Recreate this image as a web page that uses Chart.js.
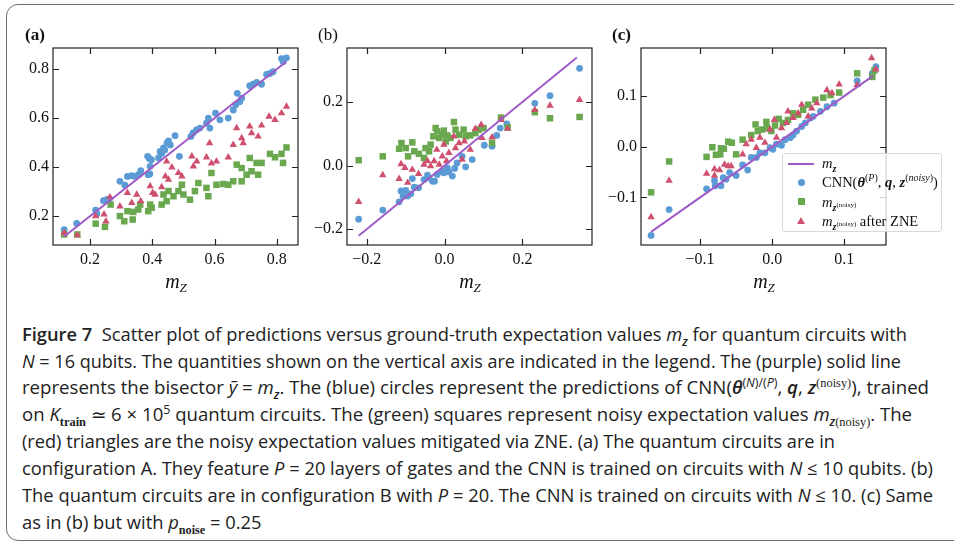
<!DOCTYPE html>
<html>
<head>
<meta charset="utf-8">
<script src="https://cdn.jsdelivr.net/npm/chart.js@4.4.1/dist/chart.umd.min.js"></script>
<style>
  body { margin: 0; background: #fff; width: 954px; height: 548px; overflow: hidden; position: relative; }
  .frame { position: absolute; left: 6px; top: 4px; width: 970px; height: 537px; border: 1.5px solid #6d6d6d; border-radius: 12px; box-sizing: border-box; }
  canvas { position: absolute; top: 0; }
  .lab { position: absolute; top: 25px; font: 17px "Liberation Serif", serif; color: #111; }
  .xt { position: absolute; top: 270px; width: 60px; text-align: center; font: italic 20px "Liberation Serif", serif; color: #111; }
  .xt sub { font-size: 13px; line-height: 0; vertical-align: -4px; }
  .legend { position: absolute; left: 782px; top: 153px; width: 160px; height: 79px; box-sizing: border-box;
    background: rgba(255,255,255,0.8); border: 1px solid #d8d8d8; border-radius: 3px; font: 14.5px "Liberation Serif", serif; color: #111; }
  .row { position: absolute; left: 39px; height: 18px; line-height: 18px; white-space: nowrap; }
  .row sup, .row sub { font-size: 10px; line-height: 0; }
  .mk { position: absolute; }
  .cap { position: absolute; left: 22px; white-space: nowrap; font: 18px "Open Sans", sans-serif; line-height: 27px;
    color: #222; transform-origin: 0 0; }
  .cap b { font-weight: 600; }
  .cap sub, .cap sup { font-size: 12px; line-height: 0; }
  .cap .s { font-family: "Liberation Serif", serif; }
</style>
</head>
<body>
<div class="frame"></div>
<canvas id="ca" width="305" height="300" style="left:0"></canvas>
<canvas id="cb" width="300" height="300" style="left:305px"></canvas>
<canvas id="cc" width="349" height="300" style="left:605px"></canvas>

<div class="lab" style="left:25px"><b>(a)</b></div>
<div class="lab" style="left:318px">(b)</div>
<div class="lab" style="left:612px"><b>(c)</b></div>

<div class="xt" style="left:146px"><i>m</i><sub>Z</sub></div>
<div class="xt" style="left:440px"><i>m</i><sub>Z</sub></div>
<div class="xt" style="left:734px"><i>m</i><sub>Z</sub></div>

<div class="legend">
  <div class="mk" style="left:5px;top:9px;width:26px;height:2px;background:#a05ac8"></div>
  <div class="row" style="top:0px"><i>m</i><sub><b><i>z</i></b></sub></div>
  <div class="mk" style="left:15px;top:25px;width:7px;height:7px;border-radius:50%;background:#5b9bd5"></div>
  <div class="row" style="top:19px">CNN(<b><i>θ</i></b><sup>(<i>P</i>)</sup>, <b><i>q</i></b>, <b><i>z</i></b><sup>(<i>noisy</i>)</sup>)</div>
  <div class="mk" style="left:15px;top:44px;width:7px;height:7px;background:#6aa84f"></div>
  <div class="row" style="top:39px"><i>m</i><sub><b><i>z</i></b><sup style="font-size:7px">(noisy)</sup></sub></div>
  <div class="mk" style="left:14px;top:63px;width:0;height:0;border-left:4.5px solid transparent;border-right:4.5px solid transparent;border-bottom:7px solid #cf506e"></div>
  <div class="row" style="top:58px"><i>m</i><sub><b><i>z</i></b><sup style="font-size:7px">(noisy)</sup></sub> after ZNE</div>
</div>

<div class="cap" data-r="907" style="top:321px"><b>Figure 7</b>&nbsp; Scatter plot of predictions versus ground-truth expectation values <i>m</i><sub><b><i>z</i></b></sub> for quantum circuits with</div>
<div class="cap" data-r="901" style="top:348px"><i>N</i> = 16 qubits. The quantities shown on the vertical axis are indicated in the legend. The (purple) solid line</div>
<div class="cap" data-r="929" style="top:374px">represents the bisector <i>ỹ</i> = <i>m</i><sub><b><i>z</i></b></sub>. The (blue) circles represent the predictions of CNN(<b><i>θ</i></b><sup>(<i>N</i>)/(<i>P</i>)</sup>, <b><i>q</i></b>, <b><i>z</i></b><sup class="s">(noisy)</sup>), trained</div>
<div class="cap" data-r="912" style="top:401px">on <i>K</i><sub class="s"><b>train</b></sub> ≃ 6 × 10<sup>5</sup> quantum circuits. The (green) squares represent noisy expectation values <i>m</i><sub><b><i>z</i></b><span class="s">(noisy)</span></sub>. The</div>
<div class="cap" data-r="835" style="top:428px">(red) triangles are the noisy expectation values mitigated via ZNE. (a) The quantum circuits are in</div>
<div class="cap" data-r="933" style="top:455px">configuration A. They feature <i>P</i> = 20 layers of gates and the CNN is trained on circuits with <i>N</i> ≤ 10 qubits. (b)</div>
<div class="cap" data-r="933" style="top:482px">The quantum circuits are in configuration B with <i>P</i> = 20. The CNN is trained on circuits with <i>N</i> ≤ 10. (c) Same</div>
<div class="cap" style="top:509px">as in (b) but with <i>p</i><sub class="s"><b>noise</b></sub> = 0.25</div>

<script>
// panel (a): [ground truth m_Z, predicted value]
const aCnn = [[0.117,0.145],[0.157,0.170],[0.218,0.224],[0.222,0.210],[0.243,0.263],[0.253,0.267],[0.262,0.270],
  [0.296,0.342],[0.312,0.326],[0.320,0.362],[0.334,0.365],[0.344,0.362],[0.355,0.369],[0.363,0.385],[0.387,0.369],
  [0.393,0.403],[0.385,0.444],[0.390,0.435],[0.397,0.430],[0.392,0.372],[0.420,0.437],[0.425,0.464],[0.430,0.455],
  [0.436,0.478],[0.440,0.470],[0.447,0.498],[0.452,0.507],[0.458,0.490],[0.473,0.528],[0.487,0.444],[0.524,0.525],
  [0.531,0.539],[0.542,0.552],[0.553,0.559],[0.574,0.579],[0.580,0.600],[0.585,0.559],[0.603,0.620],[0.617,0.593],
  [0.644,0.600],[0.660,0.633],[0.668,0.654],[0.673,0.701],[0.681,0.667],[0.687,0.681],[0.713,0.732],[0.724,0.738],
  [0.735,0.746],[0.751,0.738],[0.767,0.778],[0.778,0.782],[0.788,0.789],[0.815,0.843],[0.820,0.830],[0.831,0.846]];
const aNoisy = [[0.117,0.125],[0.159,0.125],[0.218,0.169],[0.248,0.156],[0.266,0.247],[0.296,0.200],[0.310,0.179],
  [0.320,0.220],[0.337,0.186],[0.339,0.217],[0.355,0.227],[0.361,0.247],[0.387,0.220],[0.393,0.247],[0.398,0.234],
  [0.430,0.247],[0.436,0.288],[0.446,0.261],[0.452,0.302],[0.468,0.281],[0.484,0.302],[0.495,0.328],[0.500,0.288],
  [0.521,0.267],[0.537,0.302],[0.548,0.335],[0.574,0.315],[0.580,0.281],[0.590,0.376],[0.606,0.328],[0.628,0.331],
  [0.644,0.328],[0.660,0.342],[0.671,0.410],[0.687,0.396],[0.687,0.342],[0.703,0.369],[0.713,0.437],[0.719,0.383],
  [0.735,0.417],[0.740,0.369],[0.751,0.417],[0.778,0.454],[0.794,0.440],[0.815,0.454],[0.820,0.417],[0.831,0.480]];
const aZne = [[0.117,0.132],[0.159,0.122],[0.218,0.200],[0.245,0.207],[0.251,0.179],[0.264,0.277],[0.296,0.240],
  [0.320,0.295],[0.334,0.254],[0.350,0.288],[0.363,0.261],[0.393,0.322],[0.401,0.295],[0.409,0.288],[0.430,0.318],
  [0.442,0.362],[0.452,0.349],[0.446,0.423],[0.463,0.399],[0.484,0.376],[0.495,0.362],[0.527,0.444],[0.532,0.403],
  [0.543,0.423],[0.574,0.440],[0.584,0.498],[0.590,0.415],[0.606,0.423],[0.644,0.440],[0.660,0.491],[0.671,0.559],
  [0.687,0.518],[0.692,0.498],[0.713,0.566],[0.719,0.539],[0.740,0.525],[0.751,0.570],[0.775,0.606],[0.794,0.593],
  [0.815,0.620],[0.831,0.647]];
const aLine = [0.117, 0.831];

// panel (b)
const bCnn = [[-0.221,-0.169],[-0.159,-0.140],[-0.117,-0.114],[-0.112,-0.080],[-0.107,-0.096],[-0.100,-0.078],
  [-0.095,-0.096],[-0.087,-0.089],[-0.083,-0.041],[-0.078,-0.068],[-0.067,-0.070],[-0.053,-0.044],[-0.044,-0.030],
  [-0.040,-0.039],[-0.031,-0.049],[-0.026,-0.049],[-0.019,-0.028],[-0.006,-0.018],[-0.002,-0.023],[0.007,-0.007],
  [0.011,-0.020],[0.020,-0.033],[0.026,-0.009],[0.032,0.008],[0.045,0.029],[0.054,-0.004],[0.071,0.019],
  [0.102,0.064],[0.122,0.061],[0.134,0.095],[0.143,0.118],[0.160,0.131],[0.232,0.196],[0.271,0.220],[0.347,0.306]];
const bNoisy = [[-0.221,0.017],[-0.159,0.029],[-0.117,0.053],[-0.111,0.071],[-0.100,0.055],[-0.094,0.029],
  [-0.083,0.073],[-0.078,0.045],[-0.066,0.037],[-0.053,0.024],[-0.049,0.055],[-0.040,0.045],[-0.036,0.066],
  [-0.029,0.092],[-0.023,0.118],[-0.019,0.108],[-0.014,0.087],[-0.006,0.097],[-0.002,0.110],[0.003,0.076],
  [0.007,0.095],[0.015,0.087],[0.024,0.137],[0.028,0.113],[0.037,0.097],[0.049,0.113],[0.054,0.092],[0.066,0.095],
  [0.079,0.102],[0.088,0.113],[0.100,0.118],[0.122,0.071],[0.145,0.151],[0.162,0.120],[0.232,0.168],[0.271,0.149],
  [0.347,0.153]];
const bZne = [[-0.221,-0.114],[-0.159,-0.030],[-0.117,-0.042],[-0.112,0.005],[-0.102,-0.007],[-0.095,-0.054],
  [-0.083,-0.013],[-0.067,-0.026],[-0.053,0.003],[-0.044,0.014],[-0.036,-0.002],[-0.027,0.014],[-0.020,0.050],
  [-0.014,0.003],[-0.006,0.029],[-0.002,0.066],[0.005,0.014],[0.011,0.040],[0.024,0.092],[0.028,0.055],
  [0.037,0.071],[0.045,0.019],[0.051,0.076],[0.066,0.050],[0.079,0.116],[0.094,0.128],[0.096,0.087],[0.122,0.089],
  [0.145,0.144],[0.162,0.116],[0.232,0.175],[0.271,0.189],[0.347,0.207]];
const bLine = [-0.221, 0.340];

// panel (c)
const cCnn = [[-0.168,-0.175],[-0.143,-0.124],[-0.091,-0.083],[-0.080,-0.067],[-0.079,-0.077],[-0.071,-0.077],
  [-0.068,-0.061],[-0.064,-0.064],[-0.059,-0.051],[-0.050,-0.057],[-0.041,-0.036],[-0.034,-0.046],[-0.029,-0.021],
  [-0.022,-0.021],[-0.017,-0.012],[-0.010,-0.012],[-0.003,-0.002],[0.001,-0.005],[0.006,0.005],[0.013,0.003],
  [0.018,0.014],[0.025,0.018],[0.029,0.023],[0.034,0.031],[0.041,0.040],[0.046,0.047],[0.053,0.057],[0.057,0.060],
  [0.067,0.070],[0.076,0.079],[0.086,0.086],[0.118,0.130],[0.139,0.145],[0.144,0.158]];
const cNoisy = [[-0.168,-0.090],[-0.143,-0.029],[-0.091,-0.020],[-0.083,-0.001],[-0.078,-0.016],[-0.072,-0.015],
  [-0.071,-0.003],[-0.067,-0.004],[-0.061,0.010],[-0.056,0.008],[-0.050,-0.015],[-0.041,0.014],[-0.029,0.023],
  [-0.023,0.044],[-0.020,0.031],[-0.014,0.034],[-0.008,0.049],[-0.007,0.037],[-0.001,0.031],[0.004,0.042],
  [0.009,0.055],[0.015,0.047],[0.022,0.053],[0.029,0.066],[0.036,0.063],[0.043,0.073],[0.050,0.083],[0.060,0.093],
  [0.071,0.097],[0.081,0.102],[0.093,0.107],[0.118,0.145],[0.139,0.138],[0.142,0.151]];
const cZne = [[-0.168,-0.139],[-0.143,-0.067],[-0.091,-0.053],[-0.080,-0.044],[-0.080,-0.057],[-0.073,-0.046],
  [-0.066,-0.035],[-0.061,-0.038],[-0.057,-0.038],[-0.041,-0.015],[-0.036,0.005],[-0.029,0.014],[-0.022,-0.002],
  [-0.017,0.018],[-0.010,0.008],[-0.003,0.034],[0.003,0.053],[0.006,0.018],[0.013,0.037],[0.020,0.047],
  [0.022,0.070],[0.029,0.057],[0.036,0.066],[0.041,0.083],[0.050,0.060],[0.055,0.076],[0.062,0.086],[0.076,0.112],
  [0.083,0.106],[0.093,0.123],[0.118,0.122],[0.138,0.175],[0.144,0.153]];
const cLine = [-0.168, 0.140];

// tick labels
const aXTicks = [0.2, 0.4, 0.6, 0.8];
const aYTicks = [0.2, 0.4, 0.6, 0.8];
const bXTicks = [-0.2, 0.0, 0.2];
const bYTicks = [-0.2, 0.0, 0.2];
const cXTicks = [-0.1, 0.0, 0.1];
const cYTicks = [-0.1, 0.0, 0.1];

const BLUE = '#5b9bd5', GREEN = '#6aa84f', RED = '#cf506e', PURPLE = '#a05ac8';
const tickFont = { family: 'Liberation Serif', size: 16 };
const fmt = v => (v < 0 ? '\u2212' : '') + Math.abs(v).toFixed(1);
const pts = arr => arr.map(p => ({ x: p[0], y: p[1] }));

// box around the plot and inward ticks on all four sides
const frame = {
  id: 'frame',
  afterDraw(chart) {
    const { ctx, chartArea: a, scales: { x, y } } = chart;
    ctx.save();
    ctx.strokeStyle = '#222';
    ctx.lineWidth = 1.2;
    ctx.strokeRect(a.left, a.top, a.right - a.left, a.bottom - a.top);
    ctx.beginPath();
    x.ticks.forEach(t => {
      const p = Math.round(x.getPixelForValue(t.value)) + 0.5;
      ctx.moveTo(p, a.bottom); ctx.lineTo(p, a.bottom - 6);
      ctx.moveTo(p, a.top); ctx.lineTo(p, a.top + 6);
    });
    y.ticks.forEach(t => {
      const p = Math.round(y.getPixelForValue(t.value)) + 0.5;
      ctx.moveTo(a.left, p); ctx.lineTo(a.left + 6, p);
      ctx.moveTo(a.right, p); ctx.lineTo(a.right - 6, p);
    });
    ctx.stroke();
    ctx.restore();
  }
};

function panel(id, cnn, noisy, zne, line, xr, yr, xt, yt, yw, padR) {
  new Chart(document.getElementById(id), {
    type: 'scatter',
    data: {
      datasets: [
        { type: 'line', data: line.map(v => ({ x: v, y: v })), borderColor: PURPLE, borderWidth: 2,
          pointRadius: 0, order: 0 },
        { data: pts(zne), pointStyle: 'triangle', pointRadius: 4.3, backgroundColor: RED, borderWidth: 0, order: 1 },
        { data: pts(noisy), pointStyle: 'rect', pointRadius: 4.6, backgroundColor: GREEN, borderWidth: 0, order: 2 },
        { data: pts(cnn), pointStyle: 'circle', pointRadius: 3.4, backgroundColor: BLUE, borderWidth: 0, order: 3 }
      ]
    },
    options: {
      responsive: false,
      animation: false,
      events: [],
      layout: { padding: { top: 48, right: padR, left: 0, bottom: 0 } },
      plugins: { legend: { display: false }, tooltip: { enabled: false } },
      scales: {
        x: {
          type: 'linear', min: xr[0], max: xr[1],
          grid: { display: false, drawTicks: false }, border: { display: false },
          ticks: { font: tickFont, color: '#111', padding: 5, maxRotation: 0, callback: fmt },
          afterBuildTicks: s => { s.ticks = xt.map(v => ({ value: v })); },
          afterFit: s => { s.height = 55; }
        },
        y: {
          type: 'linear', min: yr[0], max: yr[1],
          grid: { display: false, drawTicks: false }, border: { display: false },
          ticks: { font: tickFont, color: '#111', padding: 4, callback: fmt },
          afterBuildTicks: s => { s.ticks = yt.map(v => ({ value: v })); },
          afterFit: s => { s.width = yw; }
        }
      }
    },
    plugins: [frame]
  });
}

panel('ca', aCnn, aNoisy, aZne, aLine, [0.081, 0.868], [0.082, 0.886], aXTicks, aYTicks, 53, 7);
panel('cb', bCnn, bNoisy, bZne, bLine, [-0.251, 0.379], [-0.250, 0.370], bXTicks, bYTicks, 42, 13);
panel('cc', cCnn, cNoisy, cZne, cLine, [-0.182, 0.158], [-0.194, 0.195], cXTicks, cYTicks, 36, 68);

// squeeze each caption line to the width of the condensed face in the original;
// the short last line takes the average squeeze of the others
const caps = [...document.querySelectorAll('.cap')];
let sum = 0, n = 0;
caps.forEach(el => {
  if (!el.dataset.r) return;
  const k = (+el.dataset.r - 22) / el.getBoundingClientRect().width;
  el.style.transform = 'scaleX(' + k.toFixed(4) + ')';
  sum += k; n++;
});
caps.forEach(el => {
  if (!el.dataset.r) el.style.transform = 'scaleX(' + (sum / n).toFixed(4) + ')';
});
</script>
</body>
</html>
